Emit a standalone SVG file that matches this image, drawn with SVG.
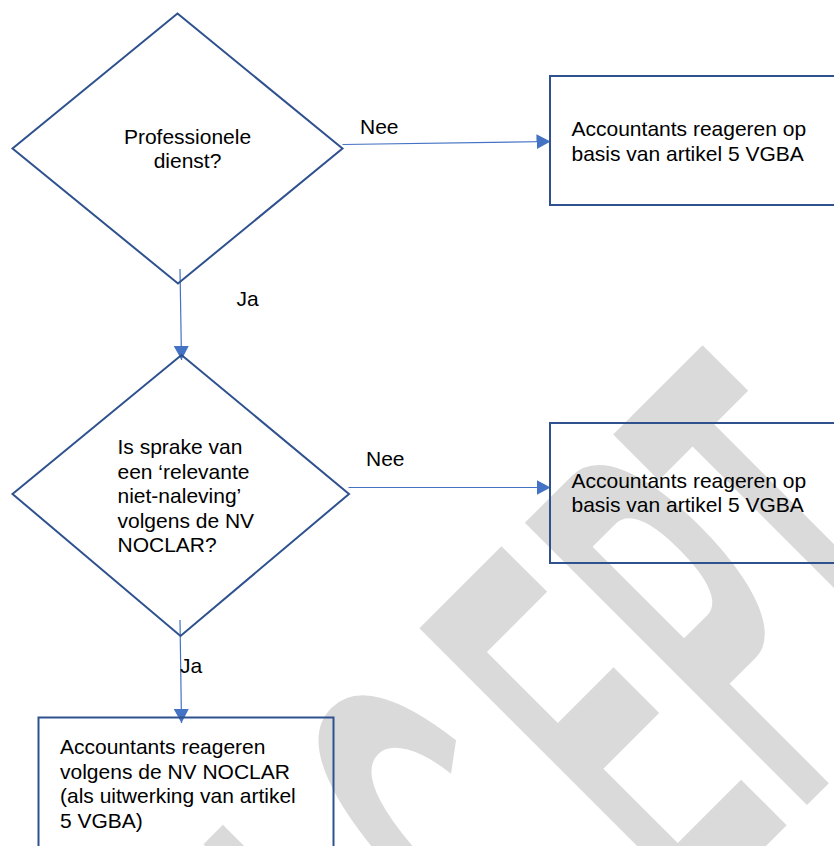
<svg xmlns="http://www.w3.org/2000/svg" width="834" height="846" viewBox="0 0 834 846">
<style>
  .shape { fill: none; stroke: #2F528F; stroke-width: 2; }
  .conn { fill: none; stroke: #4472C4; stroke-width: 1.2; }
  .t { font-family: "Liberation Sans", Arial, sans-serif; font-size: 21px; fill: #000; }
  .wm { font-family: "Liberation Sans", Arial, sans-serif; font-weight: bold; font-size: 580px; fill: #dadada; }
</style>
<defs>
  <marker id="ah" markerWidth="14" markerHeight="15" refX="14" refY="7.5" orient="auto" markerUnits="userSpaceOnUse">
    <path d="M0,0 L14,7.5 L0,15 Z" fill="#4472C4"/>
  </marker>
</defs>
<rect width="834" height="846" fill="#fff"/>
<text id="watermark" class="wm" transform="translate(806,806) rotate(-45) scale(0.37,1)" x="-2400 -1981 -1530 -941 -438 -35 335" y="0">CONCEPT</text>

<g id="connectors">
  <line class="conn" x1="342.5" y1="144.5" x2="550.5" y2="141.5" marker-end="url(#ah)"/>
  <line class="conn" x1="180" y1="269" x2="181.5" y2="360" marker-end="url(#ah)"/>
  <line class="conn" x1="348.5" y1="487.5" x2="550.5" y2="487.5" marker-end="url(#ah)"/>
  <line class="conn" x1="180" y1="620" x2="181.5" y2="723" marker-end="url(#ah)"/>
  <text class="t" x="360" y="134">Nee</text>
  <text class="t" x="236.5" y="306">Ja</text>
  <text class="t" x="366" y="466">Nee</text>
  <text class="t" x="180" y="673">Ja</text>
</g>

<g id="q1">
  <polygon class="shape" points="177.5,13.5 342.5,148.5 178,283.5 12.5,148.5"/>
  <text class="t" x="187.5" y="144" text-anchor="middle">Professionele</text>
  <text class="t" x="187.5" y="168" text-anchor="middle">dienst?</text>
</g>

<g id="r1">
  <rect class="shape" x="550" y="76" width="300" height="129"/>
  <text class="t" x="571.5" y="136">Accountants reageren op</text>
  <text class="t" x="571.5" y="161">basis van artikel 5 VGBA</text>
</g>

<g id="q2">
  <polygon class="shape" points="181.5,355 349,494 180.5,636 12.5,494"/>
  <text class="t" x="117.5" y="454">Is sprake van</text>
  <text class="t" x="117.5" y="478.5">een ‘relevante</text>
  <text class="t" x="117.5" y="503">niet-naleving’</text>
  <text class="t" x="117.5" y="527.5">volgens de NV</text>
  <text class="t" x="117.5" y="552">NOCLAR?</text>
</g>

<g id="r2">
  <rect class="shape" x="550" y="423" width="300" height="140"/>
  <text class="t" x="571.5" y="488">Accountants reageren op</text>
  <text class="t" x="571.5" y="512">basis van artikel 5 VGBA</text>
</g>

<g id="r3">
  <rect class="shape" x="38.5" y="717.5" width="295" height="150"/>
  <text class="t" x="60" y="754">Accountants reageren</text>
  <text class="t" x="60" y="778.5">volgens de NV NOCLAR</text>
  <text class="t" x="60" y="803">(als uitwerking van artikel</text>
  <text class="t" x="60" y="828">5 VGBA)</text>
</g>
</svg>
